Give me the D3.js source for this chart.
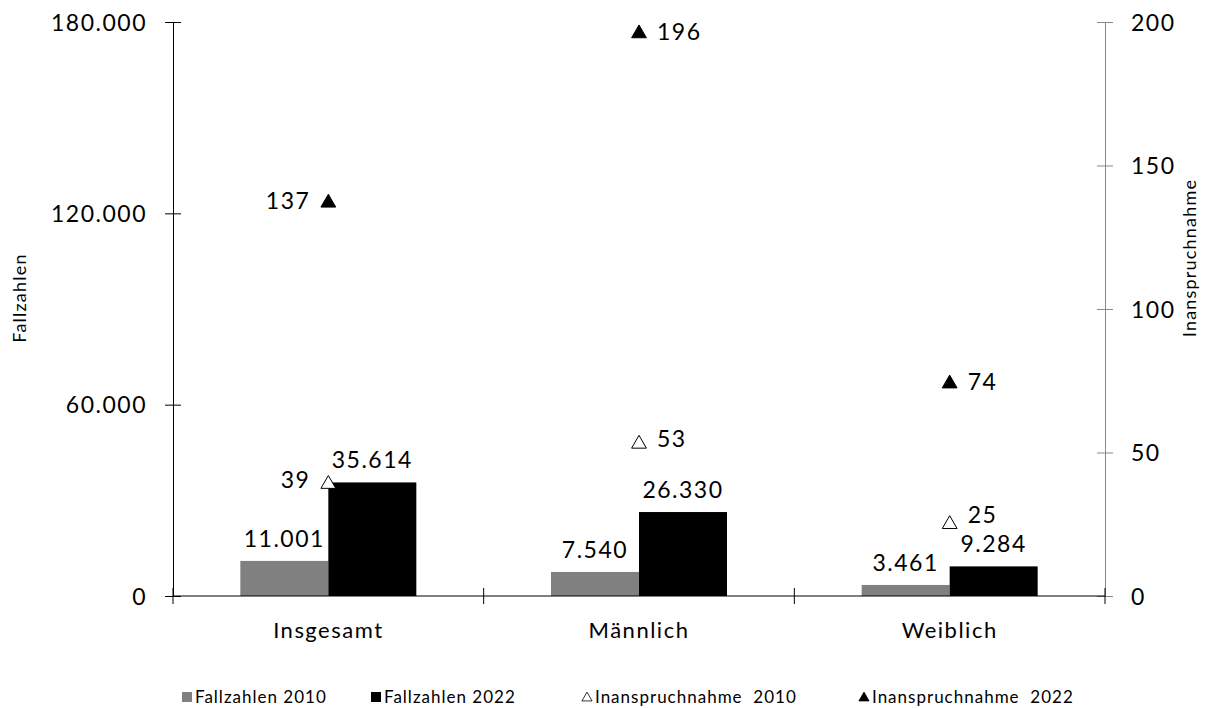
<!DOCTYPE html>
<html>
<head>
<meta charset="utf-8">
<script src="https://cdn.jsdelivr.net/npm/d3@7"></script>
<style>
  body { margin: 0; background: #fff; }
  text { font-family: "Lato", "Noto Sans", sans-serif; fill: #000; }
</style>
</head>
<body>
<svg id="chart" width="1214" height="708"></svg>
<script>
const categories = ["Insgesamt", "Männlich", "Weiblich"];
const fall2010 = [11001, 7540, 3461];
const fall2022 = [35614, 26330, 9284];
const inan2010 = [39, 53, 25];
const inan2022 = [137, 196, 74];
const leftTicks = [0, 60000, 120000, 180000];
const rightTicks = [0, 50, 100, 150, 200];
const legendLabels = ["Fallzahlen 2010", "Fallzahlen 2022", "Inanspruchnahme  2010", "Inanspruchnahme  2022"];

const svg = d3.select("#chart");
const m = { left: 173, right: 1105, top: 22, bottom: 596 };

const fmt = d => d3.format(",")(d).replace(/,/g, ".");
const NUM = 23, LS = "1.5px";

const x = d3.scaleBand().domain(categories).range([m.left, m.right]);
const yL = d3.scaleLinear().domain([0, 180000]).range([m.bottom, m.top]);
const yR = d3.scaleLinear().domain([0, 200]).range([m.bottom, m.top]);
const barW = 88;
const sub = d3.scaleBand().domain(["2010", "2022"]).range([0, barW * 2]);
const offset = (x.bandwidth() - barW * 2) / 2;

// Left axis
const gL = svg.append("g").attr("transform", `translate(${m.left},0)`)
  .call(d3.axisLeft(yL).tickValues(leftTicks).tickFormat(fmt).tickSizeInner(8).tickSizeOuter(0).tickPadding(18));
gL.select(".domain").attr("stroke", "#000");
gL.selectAll(".tick line").attr("x2", 8).attr("x1", -8).attr("stroke", "#000");
gL.selectAll(".tick text").attr("font-size", NUM).attr("font-family", "Lato").attr("fill", "#111")
  .attr("dy", "0.35em").attr("letter-spacing", LS);

// Right axis
const gR = svg.append("g").attr("transform", `translate(${m.right},0)`)
  .call(d3.axisRight(yR).tickValues(rightTicks).tickSizeInner(8).tickSizeOuter(0).tickPadding(18));
gR.select(".domain").attr("stroke", "#888");
gR.selectAll(".tick line").attr("x1", -8).attr("x2", 8).attr("stroke", "#888");
gR.selectAll(".tick text").attr("font-size", NUM).attr("font-family", "Lato").attr("fill", "#111")
  .attr("dy", "0.35em").attr("letter-spacing", LS);

// Bars
const bars = [{ key: "2010", vals: fall2010, color: "#808080" }, { key: "2022", vals: fall2022, color: "#000" }];
bars.forEach(s => {
  svg.append("g").selectAll("rect").data(categories).join("rect")
    .attr("x", (c) => x(c) + offset + sub(s.key))
    .attr("width", sub.bandwidth())
    .attr("y", (c, i) => yL(s.vals[i]))
    .attr("height", (c, i) => yL(0) - yL(s.vals[i]))
    .attr("fill", s.color);
  svg.append("g").selectAll("text").data(categories).join("text")
    .attr("x", (c) => x(c) + offset + sub(s.key) + sub.bandwidth() / 2)
    .attr("y", (c, i) => yL(s.vals[i]) - 14)
    .attr("text-anchor", "middle")
    .attr("font-size", NUM)
    .attr("letter-spacing", LS)
    .attr("fill", "#111")
    .text((c, i) => fmt(s.vals[i]));
});

// X axis
const gX = svg.append("g").attr("transform", `translate(0,${m.bottom})`);
gX.append("line").attr("x1", m.left).attr("x2", m.right).attr("stroke", "#000");
[...categories.map(c => x(c)), m.right].forEach(v => {
  gX.append("line").attr("x1", v).attr("x2", v).attr("y1", -8).attr("y2", 8).attr("stroke", "#000");
});
gX.selectAll("text.cat").data(categories).join("text")
  .attr("class", "cat")
  .attr("x", c => x(c) + x.bandwidth() / 2)
  .attr("y", 42)
  .attr("text-anchor", "middle")
  .attr("font-size", 22)
  .attr("letter-spacing", "1.5px")
  .attr("fill", "#111")
  .text(c => c);

// Markers
const tri = d3.symbol().type(d3.symbolTriangle).size(95);
const markerSeries = [
  { vals: inan2010, filled: false, side: ["left", "right", "right"], lift: [4, 5, 9] },
  { vals: inan2022, filled: true, side: ["left", "right", "right"], lift: [2, 2, 2] }
];
markerSeries.forEach(s => {
  categories.forEach((c, i) => {
    const cx = x(c) + x.bandwidth() / 2;
    const cy = yR(s.vals[i]);
    svg.append("path").attr("d", tri)
      .attr("transform", `translate(${cx},${cy})`)
      .attr("fill", s.filled ? "#000" : "#fff")
      .attr("stroke", "#000").attr("stroke-width", 1);
    svg.append("text")
      .attr("x", s.side[i] === "left" ? cx - 18 : cx + 18)
      .attr("y", cy - s.lift[i])
      .attr("dy", "0.35em")
      .attr("text-anchor", s.side[i] === "left" ? "end" : "start")
      .attr("font-size", NUM)
      .attr("letter-spacing", LS)
      .attr("fill", "#111")
      .text(s.vals[i]);
  });
});

// Axis titles
svg.append("text").attr("transform", "translate(26,298) rotate(-90)")
  .attr("text-anchor", "middle").attr("font-size", 18).attr("letter-spacing", "1.2px")
  .attr("fill", "#111").text("Fallzahlen");
svg.append("text").attr("transform", "translate(1196,258) rotate(-90)")
  .attr("text-anchor", "middle").attr("font-size", 18).attr("letter-spacing", "1.2px")
  .attr("fill", "#111").text("Inanspruchnahme");

// Legend
const legX = [187, 376, 587, 864];
const lg = svg.append("g");
legendLabels.forEach((l, i) => {
  const lx = legX[i], ly = 697;
  if (i < 2) {
    lg.append("rect").attr("x", lx - 5).attr("y", ly - 5).attr("width", 10).attr("height", 10)
      .attr("fill", i === 0 ? "#808080" : "#000");
  } else {
    lg.append("path").attr("d", d3.symbol().type(d3.symbolTriangle).size(45))
      .attr("transform", `translate(${lx},${ly + 1})`)
      .attr("fill", i === 3 ? "#000" : "#fff").attr("stroke", "#000").attr("stroke-width", 0.8);
  }
  lg.append("text").attr("x", lx + 8).attr("y", ly).attr("dy", "0.35em")
    .attr("font-size", 17).attr("letter-spacing", "1px")
    .attr("fill", "#111").attr("xml:space", "preserve").style("white-space", "pre").text(l);
});
</script>
</body>
</html>
